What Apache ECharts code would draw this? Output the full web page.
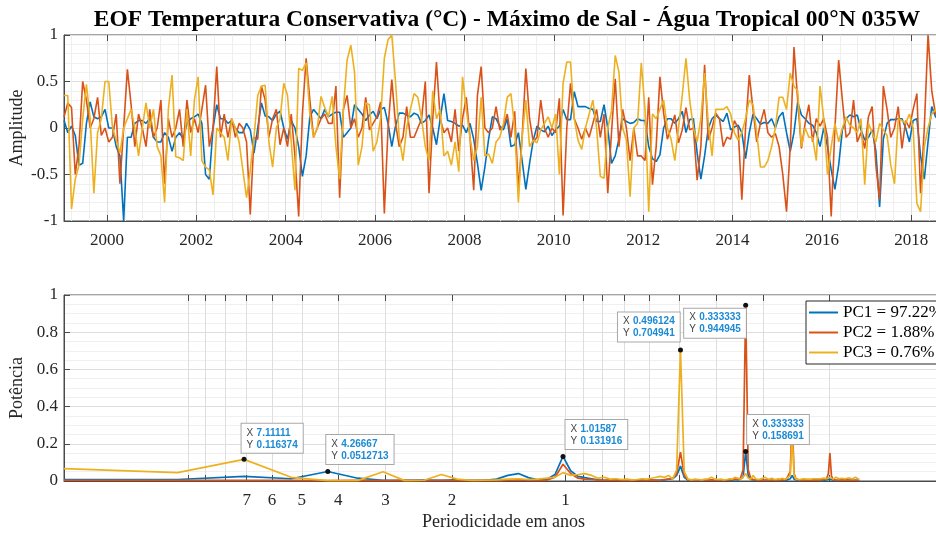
<!DOCTYPE html>
<html>
<head>
<meta charset="utf-8">
<script src="https://cdn.jsdelivr.net/npm/echarts@6/dist/echarts.min.js"></script>
<style>
  html, body { margin: 0; padding: 0; background: #fff; }
  #main { width: 936px; height: 534px; }
</style>
</head>
<body>
<div id="main"></div>
<script>
// series temporais mensais (jan/1999 em diante)
var anoInicio = 1999;
var pc1 = [
  0.08, -0.05, 0.02, -0.08, -0.40, -0.38, 0.05, 0.28, 0.12, 0.10, 0.12, 0.20,
  0.00, 0.00, -0.20, -0.30, -1.00, -0.10, -0.10, 0.05, 0.08, 0.08, 0.05, 0.10,
  -0.10, -0.15, -0.15, -0.05, -0.10, -0.25, -0.10, -0.05, -0.12, 0.05, 0.10, 0.12,
  0.15, 0.05, -0.50, -0.55, 0.00, 0.25, 0.10, 0.10, 0.05, 0.08, 0.00, -0.05,
  -0.05, 0.05, -0.02, -0.27, 0.00, 0.27, 0.13, 0.12, 0.08, 0.15, 0.18, 0.00,
  -0.12, 0.08, 0.00, -0.20, -0.52, -0.30, 0.12, 0.20, 0.15, 0.10, 0.20, 0.12,
  0.15, 0.17, 0.17, -0.10, -0.05, 0.00, 0.25, 0.20, 0.15, 0.08, 0.14, 0.18,
  0.10, 0.20, 0.22, 0.05, -0.20, 0.02, 0.16, 0.16, 0.14, 0.12, 0.16, 0.14,
  0.05, 0.08, 0.14, 0.00, -0.18, 0.10, 0.37, 0.08, 0.07, 0.05, 0.02, 0.03,
  -0.05, 0.05, -0.12, -0.38, -0.67, -0.42, -0.12, 0.12, 0.10, 0.02, -0.02, 0.10,
  -0.20, -0.18, -0.05, -0.35, -0.66, -0.38, -0.13, 0.02, -0.02, -0.04, 0.02, -0.08,
  -0.02, 0.02, 0.20, 0.09, 0.09, 0.39, 0.23, 0.23, 0.23, 0.21, 0.20, 0.07,
  0.07, 0.25, 0.00, -0.38, -0.30, -0.12, 0.10, 0.07, 0.05, 0.06, 0.10, 0.08,
  0.08, -0.20, -0.33, -0.36, -0.29, 0.00, 0.10, 0.10, 0.05, 0.10, 0.18, -0.05,
  0.09, 0.10, -0.27, -0.55, -0.30, 0.00, 0.10, 0.14, 0.10, 0.07, 0.16, -0.02,
  0.01, 0.03, -0.05, -0.33, -0.05, 0.15, 0.10, 0.04, 0.06, 0.05, 0.10, 0.00,
  0.12, 0.17, -0.05, -0.25, -0.05, 0.28, 0.14, 0.10, 0.05, 0.03, -0.05, -0.20,
  0.00, -0.20, -0.45, -0.66, -0.40, -0.02, 0.10, 0.14, 0.12, 0.14, -0.02, -0.13,
  -0.10, -0.02, -0.25, -0.85, -0.12, 0.05, 0.09, 0.09, 0.10, 0.10, 0.00, -0.15,
  0.08, 0.10, -0.30, -0.55, -0.15, 0.23, 0.12, 0.10, 0.05
];
var pc2 = [
  0.12, 0.27, 0.22, -0.50, -0.20, 0.50, 0.30, 0.00, 0.10, 0.33, -0.08, 0.00,
  -0.15, -0.10, 0.15, -0.60, 0.00, 0.63, 0.25, -0.20, 0.15, 0.00, -0.20, 0.20,
  -0.10, 0.00, 0.30, -0.60, 0.10, -0.10, 0.00, 0.20, -0.20, 0.30, -0.05, 0.10,
  -0.05, 0.20, 0.46, -0.20, 0.00, 0.66, -0.10, 0.15, -0.10, 0.10, -0.10, 0.05,
  0.00, -0.15, -0.93, -0.10, -0.12, 0.45, 0.30, -0.10, 0.10, 0.20, -0.18, 0.00,
  -0.20, 0.15, -0.30, -0.95, 0.15, 0.75, 0.30, -0.10, 0.00, 0.10, 0.15, 0.05,
  0.05, 0.45, -0.75, 0.20, 0.35, 0.00, 0.10, -0.10, 0.00, 0.33, -0.02, 0.05,
  0.12, 0.28, -0.92, 0.00, 0.52, 0.05, -0.20, -0.10, 0.23, -0.10, -0.10, 0.00,
  0.10, 0.50, -0.70, 0.10, 0.71, 0.10, -0.05, 0.00, -0.15, 0.20, -0.25, 0.10,
  0.33, -0.10, -0.67, 0.35, 0.66, 0.00, -0.05, 0.00, 0.23, -0.02, 0.02, 0.15,
  -0.10, 0.18, -0.67, -0.10, 0.64, 0.10, -0.15, -0.10, 0.30, 0.00, -0.10, 0.00,
  -0.05, 0.32, -0.94, 0.00, 0.48, 0.10, 0.00, -0.12, 0.00, -0.10, 0.05, 0.20,
  -0.10, 0.15, -0.70, -0.05, 0.53, -0.20, 0.20, 0.00, -0.35, 0.00, -0.30, -0.30,
  -0.35, 0.33, -0.61, -0.20, 0.55, 0.16, -0.12, 0.00, 0.14, -0.16, -0.02, 0.22,
  -0.02, 0.00, -0.56, -0.20, 0.68, -0.13, 0.00, 0.16, 0.10, -0.20, -0.10, -0.12,
  0.08, 0.00, -0.77, 0.00, 0.57, 0.20, -0.15, 0.05, 0.20, -0.05, -0.10, -0.06,
  -0.20, -0.50, -0.90, -0.20, 0.87, 0.30, -0.22, 0.05, 0.25, -0.15, 0.10, 0.02,
  0.10, -0.10, -0.95, 0.00, 0.73, 0.30, -0.10, -0.05, 0.30, -0.15, -0.05, -0.22,
  0.12, 0.23, -0.40, -0.77, 0.45, 0.20, -0.10, 0.00, 0.23, -0.22, 0.08, 0.00,
  0.20, 0.37, -0.70, 0.00, 1.00, 0.40, 0.15, 0.10, 0.00
];
var pc3 = [
  0.35, 0.35, -0.87, -0.55, -0.40, 0.10, 0.47, 0.10, -0.70, -0.05, 0.10, 0.50,
  0.50, 0.00, -0.13, -0.27, 0.00, 0.10, 0.20, 0.00, -0.30, 0.00, 0.27, 0.00,
  0.20, -0.20, -0.30, -0.80, 0.20, 0.57, -0.31, -0.32, -0.35, 0.20, -0.30, 0.30,
  0.55, -0.35, -0.42, -0.45, -0.72, 0.00, -0.05, -0.10, -0.35, 0.10, 0.00, -0.15,
  -0.45, -0.75, -0.45, -0.10, 0.35, 0.45, 0.46, -0.15, -0.42, 0.00, 0.10, 0.48,
  0.35, -0.15, -0.67, 0.64, 0.62, 0.70, 0.15, -0.10, 0.00, 0.34, 0.22, 0.12,
  0.34, -0.20, -0.55, 0.20, 0.73, 0.89, 0.60, -0.40, -0.20, 0.27, 0.25, -0.25,
  -0.15, 0.10, 0.75, 0.95, 1.00, 0.50, -0.10, -0.35, 0.00, 0.20, 0.37, 0.33,
  0.10, -0.20, -0.35, 0.40, 0.10, 0.20, -0.30, -0.25, -0.40, -0.15, -0.47, 0.55,
  0.20, -0.10, -0.35, -0.20, 0.33, -0.30, -0.28, -0.38, -0.15, -0.10, 0.05, 0.33,
  0.37, 0.00, -0.80, -0.10, 0.30, -0.20, -0.13, -0.16, -0.02, 0.05, 0.12, 0.00,
  0.15, -0.50, 0.48, 0.71, 0.71, 0.10, -0.13, -0.23, 0.00, 0.15, 0.30, 0.00,
  -0.52, -0.54, 0.00, 0.18, 0.78, 0.60, 0.00, -0.13, -0.74, 0.00, 0.05, 0.70,
  0.20, -0.90, 0.15, 0.10, 0.20, 0.30, 0.00, -0.12, -0.35, 0.00, 0.35, 0.75,
  0.30, 0.00, -0.15, 0.10, 0.59, 0.05, -0.30, 0.20, 0.20, 0.20, 0.23, 0.15,
  -0.05, -0.13, -0.05, 0.10, 0.30, 0.25, -0.05, -0.42, -0.42, -0.35, -0.20, 0.00,
  0.33, 0.33, 0.20, 0.59, 0.45, 0.40, -0.20, 0.00, -0.10, -0.10, -0.35, 0.45,
  0.10, -0.50, -0.20, 0.05, -0.15, 0.00, 0.12, 0.03, 0.00, -0.05, 0.10, -0.61,
  0.05, -0.05, -0.15, 0.05, -0.02, -0.08, -0.40, -0.60, 0.10, 0.08, 0.05, 0.15,
  0.00, -0.81, -0.90, -0.20, 0.00, 0.15, 0.20, 0.10, 0.10
];

// espectros de potencia, k = 1..128 (nfft = 256 meses)
var nfft = 256;
var espec1 = [
  0.008, 0.008, 0.025, 0.012, 0.0512713, 0.015, 0.004, 0.003, 0.005, 0.003,
  0.006, 0.004, 0.003, 0.010, 0.030, 0.040, 0.018, 0.006, 0.008, 0.035,
  0.131916, 0.055, 0.025, 0.018, 0.012, 0.006, 0.004, 0.005, 0.008, 0.004,
  0.003, 0.005, 0.004, 0.006, 0.003, 0.004, 0.005, 0.003, 0.006, 0.010,
  0.012, 0.030, 0.080, 0.020, 0.005, 0.004, 0.003, 0.004, 0.003, 0.005,
  0.004, 0.003, 0.005, 0.006, 0.004, 0.003, 0.004, 0.006, 0.005, 0.008,
  0.006, 0.010, 0.020, 0.158691, 0.030, 0.008, 0.006, 0.004, 0.005, 0.004,
  0.003, 0.004, 0.003, 0.005, 0.004, 0.003, 0.004, 0.003, 0.005, 0.004,
  0.004, 0.005, 0.008, 0.012, 0.030, 0.010, 0.004, 0.003, 0.004, 0.003,
  0.004, 0.003, 0.005, 0.004, 0.003, 0.004, 0.003, 0.004, 0.005, 0.003,
  0.004, 0.003, 0.004, 0.005, 0.006, 0.010, 0.020, 0.008, 0.004, 0.003,
  0.004, 0.003, 0.004, 0.003, 0.004, 0.005, 0.003, 0.004, 0.003, 0.004,
  0.003, 0.004, 0.003, 0.004, 0.003, 0.004, 0.003, 0.003
];
var espec2 = [
  0.004, 0.003, 0.004, 0.003, 0.002, 0.003, 0.002, 0.003, 0.002, 0.004,
  0.003, 0.002, 0.003, 0.002, 0.004, 0.006, 0.004, 0.003, 0.004, 0.020,
  0.090, 0.040, 0.015, 0.010, 0.008, 0.005, 0.004, 0.006, 0.004, 0.003,
  0.004, 0.003, 0.005, 0.004, 0.003, 0.006, 0.004, 0.005, 0.008, 0.010,
  0.015, 0.040, 0.155, 0.030, 0.008, 0.005, 0.004, 0.005, 0.006, 0.004,
  0.005, 0.006, 0.004, 0.005, 0.006, 0.004, 0.005, 0.006, 0.008, 0.010,
  0.010, 0.015, 0.060, 0.944945, 0.060, 0.015, 0.008, 0.006, 0.005, 0.004,
  0.005, 0.004, 0.006, 0.005, 0.004, 0.005, 0.004, 0.006, 0.005, 0.008,
  0.006, 0.010, 0.015, 0.050, 0.340, 0.040, 0.010, 0.006, 0.005, 0.004,
  0.005, 0.004, 0.006, 0.005, 0.004, 0.005, 0.006, 0.004, 0.005, 0.006,
  0.005, 0.006, 0.008, 0.010, 0.015, 0.040, 0.150, 0.030, 0.008, 0.006,
  0.005, 0.006, 0.004, 0.005, 0.006, 0.004, 0.005, 0.004, 0.006, 0.005,
  0.004, 0.005, 0.004, 0.005, 0.004, 0.003, 0.004, 0.003
];
var espec3 = [
  0.067, 0.045, 0.116374, 0.020, 0.002, 0.002, 0.050, 0.002, 0.004, 0.035,
  0.010, 0.003, 0.004, 0.006, 0.010, 0.012, 0.008, 0.010, 0.015, 0.020,
  0.045, 0.030, 0.035, 0.040, 0.030, 0.015, 0.020, 0.010, 0.012, 0.008,
  0.010, 0.006, 0.008, 0.012, 0.010, 0.015, 0.020, 0.025, 0.020, 0.030,
  0.010, 0.060, 0.704941, 0.050, 0.010, 0.006, 0.010, 0.008, 0.006, 0.010,
  0.012, 0.020, 0.010, 0.008, 0.010, 0.006, 0.008, 0.012, 0.010, 0.020,
  0.015, 0.010, 0.020, 0.040, 0.015, 0.010, 0.030, 0.012, 0.008, 0.010,
  0.015, 0.020, 0.012, 0.010, 0.015, 0.010, 0.008, 0.012, 0.010, 0.015,
  0.010, 0.012, 0.020, 0.030, 0.250, 0.030, 0.010, 0.012, 0.008, 0.010,
  0.012, 0.015, 0.010, 0.012, 0.010, 0.015, 0.012, 0.010, 0.012, 0.015,
  0.012, 0.010, 0.015, 0.010, 0.012, 0.015, 0.020, 0.012, 0.010, 0.015,
  0.020, 0.015, 0.012, 0.010, 0.015, 0.025, 0.012, 0.010, 0.015, 0.012,
  0.015, 0.010, 0.012, 0.015, 0.020, 0.010, 0.012, 0.010
];

var anosTicks = [2000, 2002, 2004, 2006, 2008, 2010, 2012, 2014, 2016, 2018];
var periodosTicks = [10, 9, 8, 7, 6, 5, 4, 3, 2, 1, 0.9, 0.8, 0.7, 0.6, 0.5, 0.4, 0.3, 0.2];
var periodosLabels = [7, 6, 5, 4, 3, 2, 1];
var nomesPC = ['PC1', 'PC2', 'PC3'];
var nomesLegenda = ['PC1 = 97.22%', 'PC2 = 1.88%', 'PC3 = 0.76%'];
var cores = ['#0072BD', '#D95319', '#EDB120'];

// datatips: serie, k, posicao da caixa
var dicas = [
  { serie: 2, k: 3, pos: [0, -33] },
  { serie: 0, k: 5, pos: [1, -34] },
  { serie: 0, k: 21, pos: [5, -34] },
  { serie: 2, k: 43, pos: [-60, -35] },
  { serie: 1, k: 64, pos: [-59, 6] },
  { serie: 0, k: 64, pos: [4, -34] }
];

var myChart = echarts.init(document.getElementById('main'));

function tempo(v) {
  return v.map(function (y, i) { return [anoInicio + (i + 0.5) / 12, y]; });
}
function periodo(k) { return nfft / 12 / k; }
function espectro(v) {
  return v.map(function (y, i) { return [Math.log10(periodo(i + 1)), y]; });
}
function lg(list) { return list.map(function (p) { return Math.log10(p); }); }

var minorAnos = [];
for (var a = 1999.2; a < 2018.75; a += 0.4) {
  var r = Math.round(a * 10) / 10;
  if (Math.abs(r - Math.round(r)) > 0.01 || Math.round(r) % 2 !== 0) minorAnos.push(r);
}

var espectros = [espec1, espec2, espec3];
var serif = 'Liberation Serif';
var corEixo = '#4a4a4a';
var corGrade = '#dedede';

function marcas(s) {
  return dicas.filter(function (d) { return d.serie === s; }).map(function (d) {
    var x = periodo(d.k), y = espectros[s][d.k - 1];
    return {
      coord: [Math.log10(x), y],
      label: {
        position: d.pos,
        formatter: '{a|X} {b|' + Number(x.toPrecision(6)) + '}\n{a|Y} {b|' + Number(y.toPrecision(6)) + '}'
      }
    };
  });
}

var series = [];
[pc1, pc2, pc3].forEach(function (v, s) {
  series.push({
    name: nomesPC[s], type: 'line', xAxisIndex: 0, yAxisIndex: 0,
    data: tempo(v), symbol: 'none', color: cores[s],
    lineStyle: { width: 1.6 }
  });
});
espectros.forEach(function (v, s) {
  series.push({
    name: nomesLegenda[s], type: 'line', xAxisIndex: 3, yAxisIndex: 1,
    data: espectro(v), symbol: 'none', color: cores[s],
    lineStyle: { width: 1.7 },
    markPoint: {
      symbol: 'circle', symbolSize: 5,
      itemStyle: { color: '#111' },
      label: {
        show: true, backgroundColor: '#fff', borderColor: '#a8a8a8', borderWidth: 1,
        padding: [3, 5, 2, 5], lineHeight: 12,
        rich: {
          a: { color: '#444', fontSize: 10, fontFamily: 'Liberation Sans', lineHeight: 12 },
          b: { color: '#1c8ad4', fontSize: 10, fontWeight: 'bold', fontFamily: 'Liberation Sans', lineHeight: 12 }
        }
      },
      data: marcas(s)
    }
  });
});

myChart.setOption({
  animation: false,
  title: {
    text: 'EOF Temperatura Conservativa (°C) - Máximo de Sal - Água Tropical 00°N 035W',
    left: 502, top: 3, textAlign: 'center',
    textStyle: { fontFamily: serif, fontSize: 23.5, fontWeight: 'bold', color: '#000' }
  },
  legend: {
    data: nomesLegenda, orient: 'vertical', left: 806, top: 301,
    icon: 'rect', itemWidth: 29, itemHeight: 2, itemGap: 3,
    padding: [3, 10, 3, 3],
    backgroundColor: '#fff', borderColor: '#262626', borderWidth: 1,
    textStyle: { fontFamily: serif, fontSize: 17, color: '#000' }
  },
  grid: [
    { left: 64, top: 35, width: 879, height: 186, outerBoundsMode: 'none', containLabel: false,
      show: true, borderColor: corEixo, borderWidth: 1 },
    { left: 64, top: 295, width: 879, height: 186, outerBoundsMode: 'none', containLabel: false,
      show: true, borderColor: corEixo, borderWidth: 1 }
  ],
  xAxis: [
    {
      type: 'value', gridIndex: 0, position: 'bottom', min: 1999.04, max: 2018.71,
      axisLine: { onZero: false, lineStyle: { color: corEixo } },
      axisTick: { inside: true, length: 6, customValues: anosTicks, lineStyle: { color: corEixo } },
      axisLabel: {
        customValues: anosTicks, margin: 11, color: '#262626', fontFamily: serif, fontSize: 17,
        formatter: function (v) { return String(v); }
      },
      splitLine: { show: true, lineStyle: { color: corGrade } }
    },
    {
      type: 'value', gridIndex: 0, position: 'bottom', min: 1999.04, max: 2018.71,
      axisLine: { show: false, onZero: false },
      axisTick: { show: false, customValues: minorAnos },
      axisLabel: { show: false },
      splitLine: { show: true, lineStyle: { color: '#efefef' } }
    },
    {
      type: 'value', gridIndex: 0, position: 'top', min: 1999.04, max: 2018.71,
      axisLine: { show: false, onZero: false },
      axisTick: { inside: true, length: 6, customValues: anosTicks, lineStyle: { color: corEixo } },
      axisLabel: { show: false },
      splitLine: { show: false }
    },
    {
      type: 'value', gridIndex: 1, position: 'bottom', inverse: true,
      min: -1, max: Math.log10(nfft / 12),
      name: 'Periodicidade em anos', nameLocation: 'middle', nameGap: 32, nameMoveOverlap: false,
      nameTextStyle: { fontFamily: serif, fontSize: 18, color: '#262626' },
      axisLine: { onZero: false, lineStyle: { color: corEixo } },
      axisTick: { inside: true, length: 6, customValues: lg(periodosTicks), lineStyle: { color: corEixo } },
      axisLabel: {
        customValues: lg(periodosLabels), margin: 11, color: '#262626', fontFamily: serif, fontSize: 17,
        formatter: function (v) { return String(Math.round(Math.pow(10, v))); }
      },
      splitLine: { show: true, lineStyle: { color: corGrade } }
    },
    {
      type: 'value', gridIndex: 1, position: 'top', inverse: true,
      min: -1, max: Math.log10(nfft / 12),
      axisLine: { show: false, onZero: false },
      axisTick: { inside: true, length: 6, customValues: lg(periodosTicks), lineStyle: { color: corEixo } },
      axisLabel: { show: false },
      splitLine: { show: false }
    }
  ],
  yAxis: [
    {
      type: 'value', gridIndex: 0, min: -1, max: 1, interval: 0.5,
      name: 'Amplitude', nameLocation: 'middle', nameGap: 38, nameMoveOverlap: false,
      nameTextStyle: { fontFamily: serif, fontSize: 18, color: '#262626' },
      axisLine: { show: true, onZero: false, lineStyle: { color: corEixo } },
      axisTick: { show: true, inside: true, length: 6, lineStyle: { color: corEixo } },
      axisLabel: { margin: 6, color: '#262626', fontFamily: serif, fontSize: 17 },
      splitLine: { show: true, lineStyle: { color: corGrade } },
      minorTick: { show: false, splitNumber: 5 },
      minorSplitLine: { show: true, lineStyle: { color: '#f0f0f0' } }
    },
    {
      type: 'value', gridIndex: 1, min: 0, max: 1, interval: 0.2,
      name: 'Potência', nameLocation: 'middle', nameGap: 38, nameMoveOverlap: false,
      nameTextStyle: { fontFamily: serif, fontSize: 18, color: '#262626' },
      axisLine: { show: true, onZero: false, lineStyle: { color: corEixo } },
      axisTick: { show: true, inside: true, length: 6, lineStyle: { color: corEixo } },
      axisLabel: { margin: 6, color: '#262626', fontFamily: serif, fontSize: 17 },
      splitLine: { show: true, lineStyle: { color: corGrade } },
      minorTick: { show: false, splitNumber: 4 },
      minorSplitLine: { show: true, lineStyle: { color: '#f0f0f0' } }
    }
  ],
  series: series
});
</script>
</body>
</html>
